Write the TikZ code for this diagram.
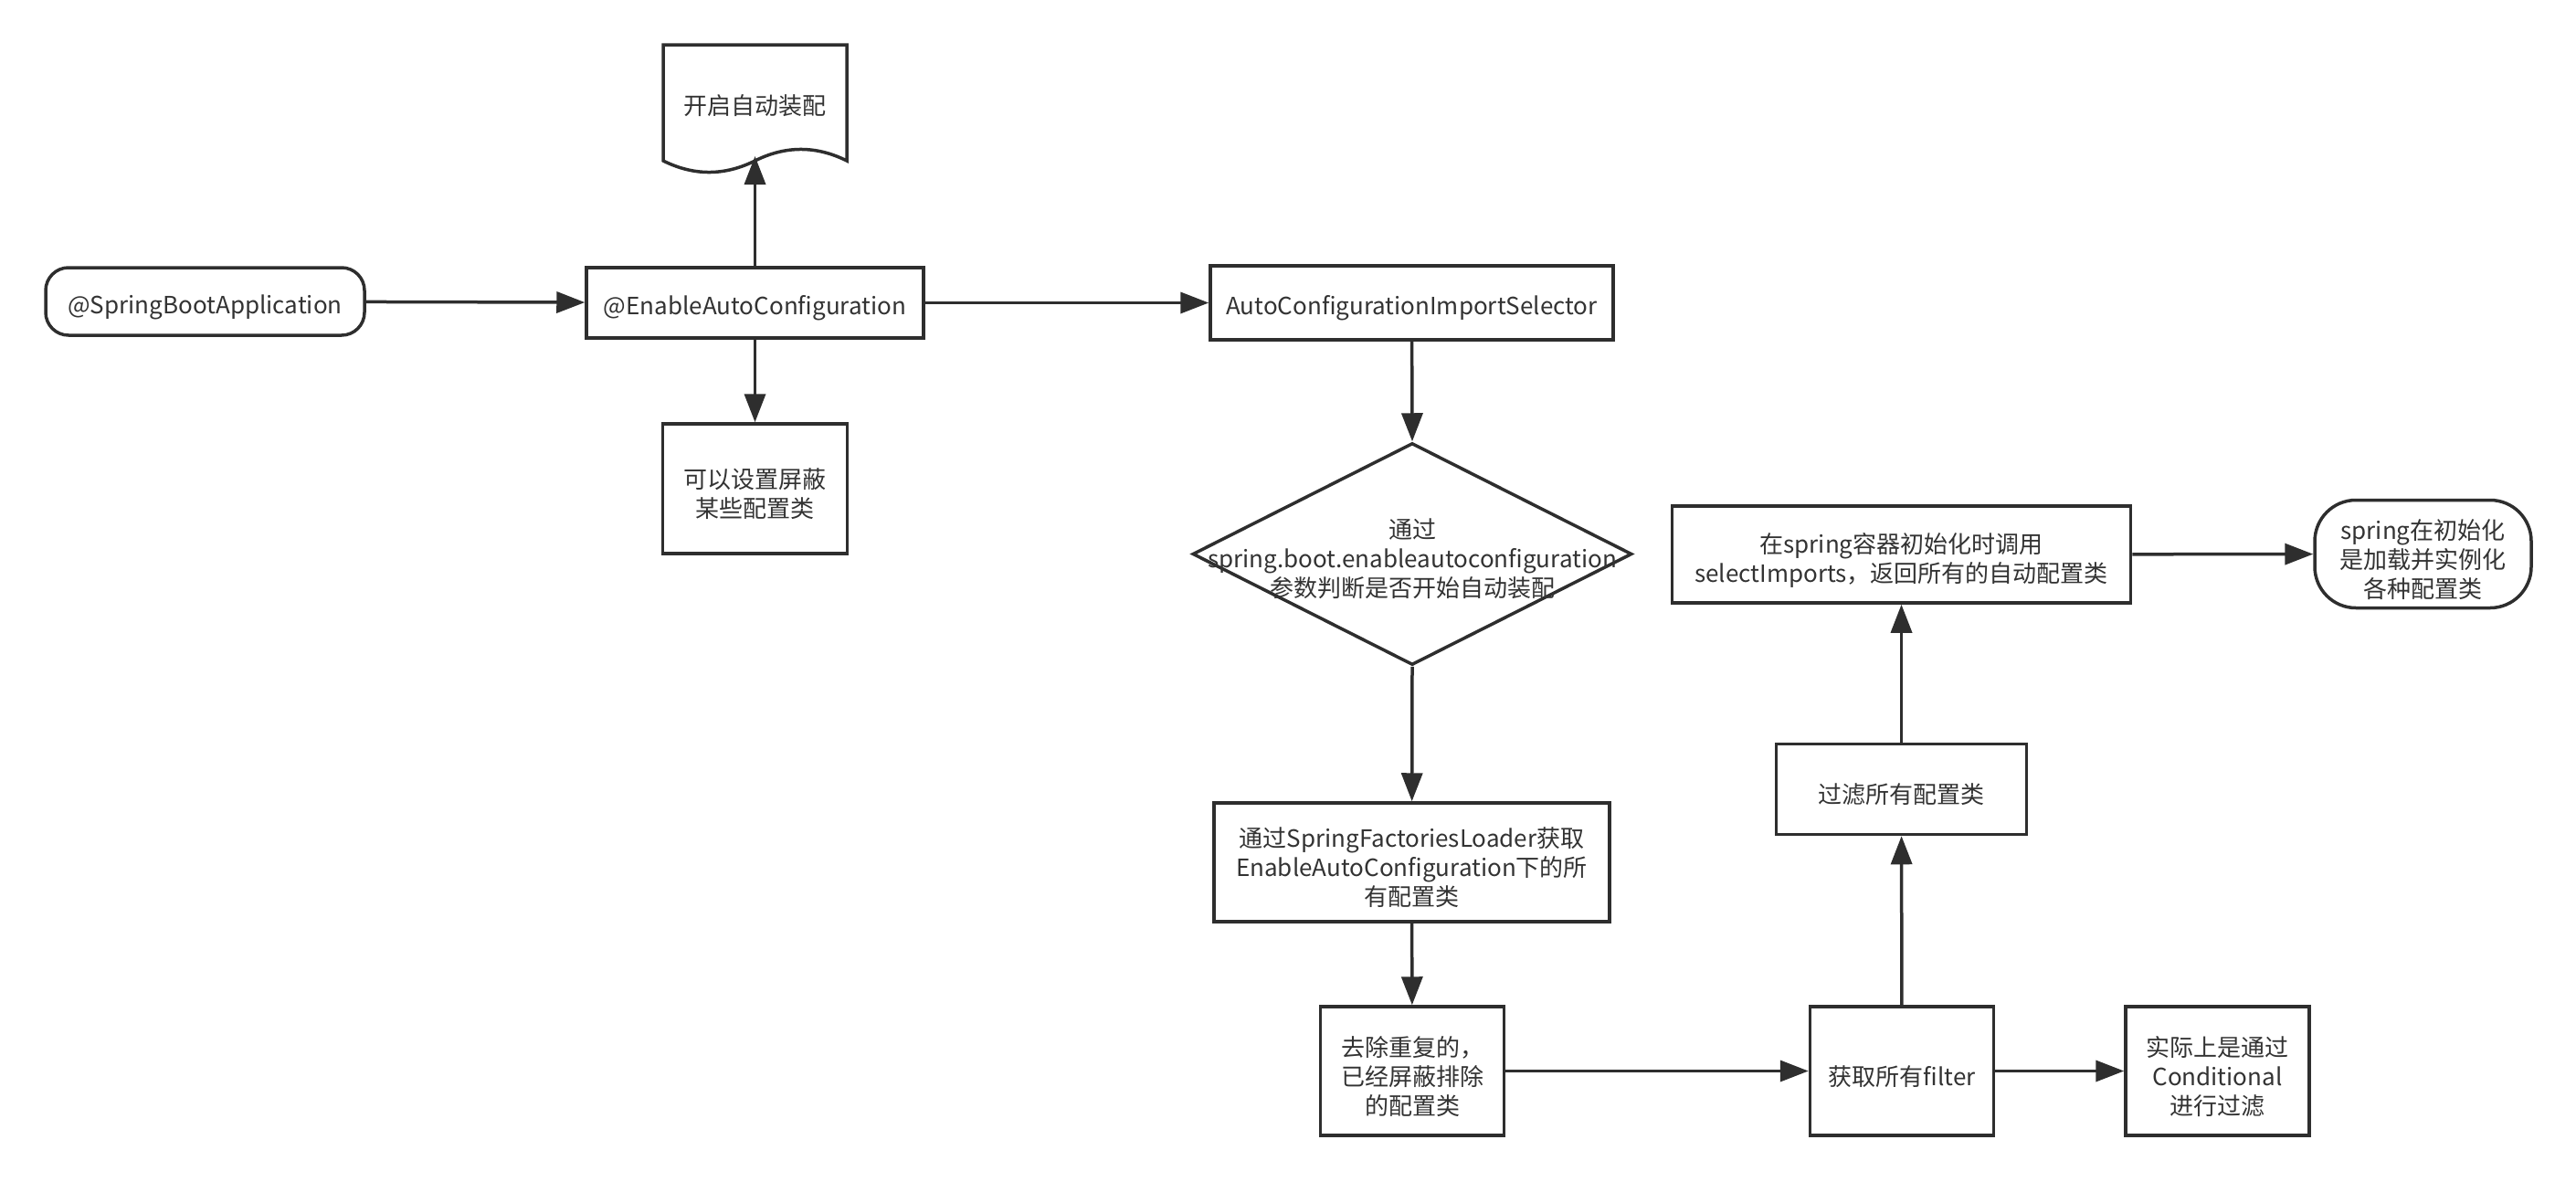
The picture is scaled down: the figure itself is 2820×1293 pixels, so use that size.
\documentclass[tikz,border=0pt]{standalone}
\usepackage{fontspec}
\setmainfont{Noto Sans CJK SC}
\usetikzlibrary{arrows.meta,shapes.geometric}
\definecolor{linec}{HTML}{2E2E2E}
\definecolor{textc}{HTML}{333333}
\tikzset{
  box/.style={draw=linec, line width=3.5pt, fill=white, inner sep=0pt},
  txt/.style={align=center, text=textc, font=\fontsize{26}{32}\selectfont, inner sep=0pt, yshift=-6pt},
  arr/.style={draw=linec, line width=3.5pt, -{Triangle[length=31pt,width=23pt]}}
}
\begin{document}
\begin{tikzpicture}[x=1pt,y=-1pt]
\useasboundingbox[fill=white] (0,0) rectangle (2820,1293);
% shapes
\node[box, rounded corners=25pt, minimum width=349pt, minimum height=74pt] (sba) at (224.5,330) {};
\node[txt] (sbat) at (sba) {@SpringBootApplication};
\node[box, minimum width=369pt, minimum height=77pt] (eac) at (826.5,331.5) {};
\node[txt] (eact) at (eac) {@EnableAutoConfiguration};
% document shape
\draw[draw=linec, line width=3.5pt, fill=white]
  (726,49) -- (927,49) -- (927,176)
  .. controls (893.5,159.3) and (860,159.3) .. (826.5,176)
  .. controls (793,192.7) and (759.5,192.7) .. (726,176) -- cycle;
\coordinate (docb) at (826.5,171);
\node[txt] (doc) at (826.5,110) {开启自动装配};
\node[box, minimum width=202pt, minimum height=142pt] (mask) at (826.5,535) {};
\node[txt] (maskt) at (mask) {可以设置屏蔽\\某些配置类};
\node[box, minimum width=441pt, minimum height=81pt] (sel) at (1545.5,331.5) {};
\node[txt] (selt) at (sel) {AutoConfigurationImportSelector};
\node[box, diamond, minimum width=481pt, minimum height=243pt] (dia) at (1546,606.5) {};
\node[txt] (diat) at (1546,606) {通过\\spring.boot.enableautoconfiguration\\参数判断是否开始自动装配};
\node[box, minimum width=433pt, minimum height=130pt] (sfl) at (1545.5,944) {};
\node[txt] (sflt) at (sfl) {通过SpringFactoriesLoader获取\\EnableAutoConfiguration下的所\\有配置类};
\node[box, minimum width=201pt, minimum height=141pt] (dedup) at (1546,1172.5) {};
\node[txt] (dedupt) at (dedup) {去除重复的，\\已经屏蔽排除\\的配置类};
\node[box, minimum width=201pt, minimum height=141pt] (filt) at (2082,1172.5) {};
\node[txt] (filtt) at (filt) {获取所有filter};
\node[box, minimum width=201pt, minimum height=141pt] (cond) at (2427.5,1172.5) {};
\node[txt] (condt) at (cond) {实际上是通过\\Conditional\\进行过滤};
\node[box, minimum width=274pt, minimum height=99pt] (flt) at (2081.5,864) {};
\node[txt] (fltt) at (flt) {过滤所有配置类};
\node[box, minimum width=502pt, minimum height=106pt] (call) at (2081.5,607) {};
\node[txt] (callt) at (call) {在spring容器初始化时调用\\selectImports，返回所有的自动配置类};
\node[box, rounded corners=45pt, minimum width=237pt, minimum height=118pt] (inst) at (2652.5,606.5) {};
\node[txt] (instt) at (inst) {spring在初始化\\是加载并实例化\\各种配置类};
% connectors
\draw[arr] (sba) -- (eac);
\draw[arr] (eac.north) -- (docb);
\draw[arr] (eac) -- (mask);
\draw[arr] (eac) -- (sel);
\draw[arr] (sel) -- (dia.north);
\draw[arr] (dia.south) -- (sfl);
\draw[arr] (sfl) -- (dedup);
\draw[arr] (dedup) -- (filt);
\draw[arr] (filt) -- (cond);
\draw[arr] (filt) -- (flt);
\draw[arr] (flt) -- (call);
\draw[arr] (call) -- (inst);
\end{tikzpicture}
\end{document}
